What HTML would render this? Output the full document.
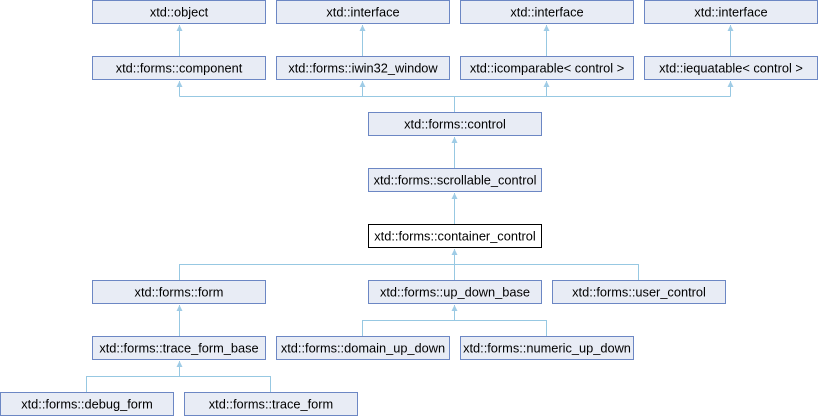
<!DOCTYPE html><html><head><meta charset="utf-8"><style>body{margin:0;background:#fff}svg{display:block}text{font-family:"Liberation Sans",Arial,sans-serif;font-size:12.8px;fill:#000}</style></head><body>
<svg width="818" height="416" viewBox="0 0 818 416">
<g stroke="#97c8e2" stroke-width="1" fill="none">
<path d="M179.5,56 V25"/><path d="M362.5,56 V25"/><path d="M546.5,56 V25"/><path d="M730.5,56 V25"/>
<path d="M454.5,112 V96.5 M179.5,96.5 H730.5 M179.5,96.5 V81 M362.5,96.5 V81 M546.5,96.5 V81 M730.5,96.5 V81"/>
<path d="M454.5,168 V137"/><path d="M454.5,224 V193"/>
<path d="M179.5,280 V264.5 H638.5 V280 M454.5,280 V249"/>
<path d="M179.5,336 V305"/>
<path d="M362.5,336 V320.5 H546.5 V336 M454.5,320.5 V305"/>
<path d="M86.5,392 V376.5 H270.5 V392 M179.5,376.5 V361"/>
</g>
<g fill="#9fcce6">
<path d="M179.5,25 l-3,6 h6z"/><path d="M362.5,25 l-3,6 h6z"/><path d="M546.5,25 l-3,6 h6z"/><path d="M730.5,25 l-3,6 h6z"/>
<path d="M179.5,81 l-3,6 h6z"/><path d="M362.5,81 l-3,6 h6z"/><path d="M546.5,81 l-3,6 h6z"/><path d="M730.5,81 l-3,6 h6z"/>
<path d="M454.5,137 l-3,6 h6z"/><path d="M454.5,193 l-3,6 h6z"/><path d="M454.5,249 l-3,6 h6z"/>
<path d="M179.5,305 l-3,6 h6z"/><path d="M454.5,305 l-3,6 h6z"/><path d="M179.5,361 l-3,6 h6z"/>
</g>
<g fill="#e8ecf5" stroke="#6c87c4" stroke-width="1">
<rect x="92.5" y="0.5" width="173" height="23"/><rect x="276.5" y="0.5" width="173" height="23"/><rect x="460.5" y="0.5" width="173" height="23"/><rect x="644.5" y="0.5" width="173" height="23"/>
<rect x="92.5" y="56.5" width="173" height="23"/><rect x="276.5" y="56.5" width="173" height="23"/><rect x="460.5" y="56.5" width="173" height="23"/><rect x="644.5" y="56.5" width="173" height="23"/>
<rect x="368.5" y="112.5" width="173" height="23"/><rect x="368.5" y="168.5" width="173" height="23"/>
<rect x="92.5" y="280.5" width="173" height="23"/><rect x="368.5" y="280.5" width="173" height="23"/><rect x="552.5" y="280.5" width="173" height="23"/>
<rect x="92.5" y="336.5" width="173" height="23"/><rect x="276.5" y="336.5" width="173" height="23"/><rect x="460.5" y="336.5" width="173" height="23"/>
<rect x="0.5" y="392.5" width="173" height="23"/><rect x="184.5" y="392.5" width="173" height="23"/>
</g>
<rect x="368.5" y="224.5" width="173" height="23" fill="#fff" stroke="#000"/>
<g text-anchor="middle">
<text x="179" y="16.5">xtd::object</text><text x="363" y="16.5">xtd::interface</text><text x="547" y="16.5">xtd::interface</text><text x="731" y="16.5">xtd::interface</text>
<text x="179" y="72.5">xtd::forms::component</text><text x="363" y="72.5">xtd::forms::iwin32_window</text><text x="547" y="72.5">xtd::icomparable&lt; control &gt;</text><text x="731" y="72.5">xtd::iequatable&lt; control &gt;</text>
<text x="455" y="128.5">xtd::forms::control</text><text x="455" y="184.5">xtd::forms::scrollable_control</text><text x="455" y="240.5">xtd::forms::container_control</text>
<text x="179" y="296.5">xtd::forms::form</text><text x="455" y="296.5">xtd::forms::up_down_base</text><text x="639" y="296.5">xtd::forms::user_control</text>
<text x="179" y="352.5">xtd::forms::trace_form_base</text><text x="363" y="352.5">xtd::forms::domain_up_down</text><text x="547" y="352.5">xtd::forms::numeric_up_down</text>
<text x="87" y="408.5">xtd::forms::debug_form</text><text x="271" y="408.5">xtd::forms::trace_form</text>
</g>
</svg></body></html>
